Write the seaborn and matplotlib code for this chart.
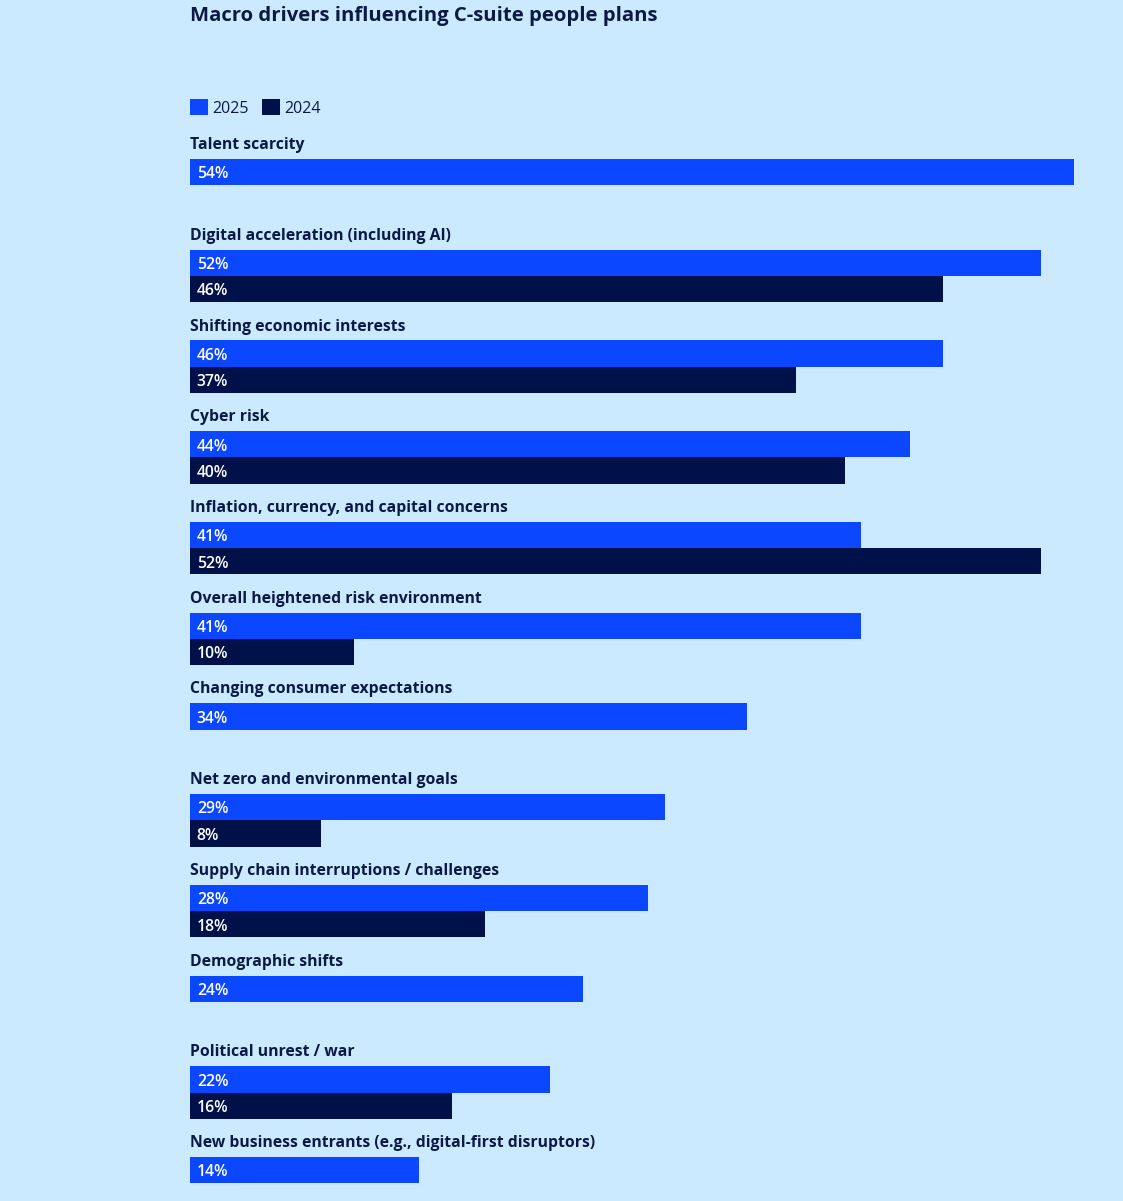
import seaborn as sns
import matplotlib.pyplot as plt
import pandas as pd

# Chart data
drivers = [
    "Talent scarcity",
    "Digital acceleration (including AI)",
    "Shifting economic interests",
    "Cyber risk",
    "Inflation, currency, and capital concerns",
    "Overall heightened risk environment",
    "Changing consumer expectations",
    "Net zero and environmental goals",
    "Supply chain interruptions / challenges",
    "Demographic shifts",
    "Political unrest / war",
    "New business entrants (e.g., digital-first disruptors)",
]
share_2025 = [54, 52, 46, 44, 41, 41, 34, 29, 28, 24, 22, 14]
share_2024 = [None, 46, 37, 40, 52, 10, None, 8, 18, None, 16, None]
years = ["2025", "2024"]

BG = "#cceaff"
BLUE = "#0a47ff"
NAVY = "#00114a"
INK = "#0b1a45"

df = pd.DataFrame({
    "driver": drivers * 2,
    "year": [years[0]] * len(drivers) + [years[1]] * len(drivers),
    "value": share_2025 + share_2024,
}).dropna()

sns.set_theme(style="white")
plt.rcParams["font.family"] = ["Open Sans", "Noto Sans", "DejaVu Sans"]

fig = plt.figure(figsize=(11.23, 12.01), dpi=100, facecolor=BG)
ax = fig.add_axes([190 / 1123, 0, 933 / 1123, 1])
ax.set_facecolor(BG)

sns.barplot(data=df, x="value", y="driver", hue="year", hue_order=years,
            order=drivers, orient="h", width=0.58, dodge=True,
            palette=[BLUE, NAVY], saturation=1, linewidth=0, ax=ax)

ax.set_xlim(0, 57.0)
ax.set_ylim(11.195, -2.041)
ax.axis("off")

# value labels inside the bars
for cont in ax.containers:
    for p in cont.patches:
        w = p.get_width()
        if w != w:  # nan
            continue
        ax.text(p.get_x() + 0.42, p.get_y() + p.get_height() / 2 + 0.069,
                f"{w:.0f}%", color="white", fontsize=11.3, fontweight="semibold",
                va="baseline", ha="left")

# category labels above each group
for i, name in enumerate(drivers):
    ax.text(0, i - 0.3985, name, color=INK, fontsize=11.35, fontweight="bold",
            va="baseline", ha="left", clip_on=False)

sns.move_legend(ax, "center left", bbox_to_anchor=(190 / 1123, 1 - 108 / 1201),
                bbox_transform=fig.transFigure, ncol=2, title=None, frameon=False,
                fontsize=11.5, handlelength=1.15, handleheight=1.15,
                handletextpad=0.25, columnspacing=0.8, borderpad=0,
                borderaxespad=0, labelcolor=INK)

fig.text(190 / 1123, 1 - 21 / 1201, "Macro drivers influencing C-suite people plans",
         color=INK, fontsize=14.6, fontweight="bold", va="baseline", ha="left")

fig.savefig("out.png", dpi=100, facecolor=BG)
